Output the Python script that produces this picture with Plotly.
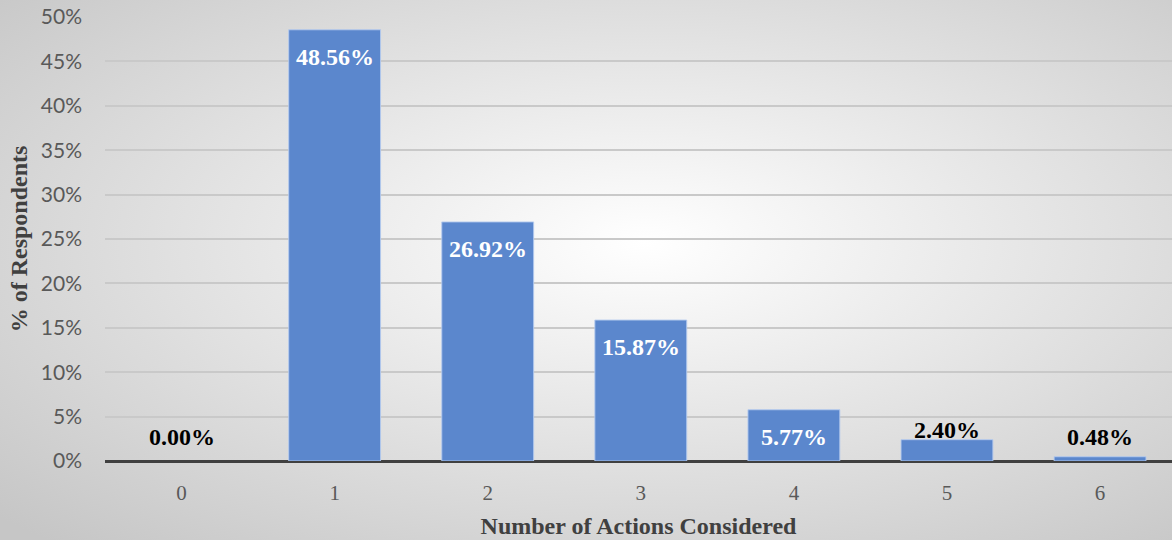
import base64
import plotly.graph_objects as go

# Share of respondents by number of actions considered
actions = ["0", "1", "2", "3", "4", "5", "6"]
share = [0.00, 48.56, 26.92, 15.87, 5.77, 2.40, 0.48]
# Labels that sit inside the bar (white) vs above it (black)
inside = [False, True, True, True, True, False, False]
label_shift = [24, -27, -27, -27, -27, 10, 20]
y_ticks = [0, 5, 10, 15, 20, 25, 30, 35, 40, 45, 50]

W, H = 1172, 540
L, R, T, B = 105, 0, 17, 79
pw, ph = W - L - R, H - T - B

# Soft radial backdrop
svg = (
    f'<svg xmlns="http://www.w3.org/2000/svg" width="{W}" height="{H}" preserveAspectRatio="none">'
    '<defs><radialGradient id="g" cx="0.55" cy="0.45" r="0.75">'
    '<stop offset="0" stop-color="#ffffff"/>'
    '<stop offset="1" stop-color="#c6c6c6"/>'
    '</radialGradient></defs>'
    f'<rect width="{W}" height="{H}" fill="url(#g)"/></svg>'
)
bg_uri = "data:image/svg+xml;base64," + base64.b64encode(svg.encode()).decode()

serif = "Liberation Serif, Times New Roman, serif"

fig = go.Figure(
    go.Bar(
        x=actions,
        y=share,
        marker=dict(
            color="#5B87CD",
            line=dict(color="rgba(180,202,238,0.9)", width=[1 if v > 0 else 0 for v in share]),
        ),
        width=0.6,
        hoverinfo="skip",
    )
)

for a, v, ins, dy in zip(actions, share, inside, label_shift):
    fig.add_annotation(
        x=a, y=v, xref="x", yref="y",
        text=f"<b>{v:.2f}%</b>",
        showarrow=False,
        yshift=dy,
        font=dict(family=serif, size=24, color="white" if ins else "black"),
    )

fig.add_layout_image(
    source=bg_uri, xref="paper", yref="paper",
    x=-L / pw, y=1 + T / ph, sizex=W / pw, sizey=H / ph,
    xanchor="left", yanchor="top", sizing="stretch", layer="below",
)

fig.update_layout(
    width=W, height=H,
    margin=dict(l=L, r=R, t=T, b=B),
    paper_bgcolor="rgba(0,0,0,0)",
    plot_bgcolor="rgba(0,0,0,0)",
    showlegend=False,
    xaxis=dict(
        type="category",
        range=[-0.5, 6.47],
        showgrid=False,
        showline=False,
        ticks="",
        ticklabelstandoff=17,
        tickfont=dict(family=serif, size=21, color="#595959"),
        title=dict(
            text="<b>Number of Actions Considered</b>",
            font=dict(family=serif, size=24, color="#404040"),
            standoff=13,
        ),
    ),
    yaxis=dict(
        range=[0, 50],
        tickvals=y_ticks,
        ticktext=[f"{t}%" for t in y_ticks],
        showgrid=True,
        gridcolor="#c9c9c9",
        gridwidth=1.5,
        zeroline=True,
        zerolinecolor="#404040",
        zerolinewidth=3,
        showline=False,
        ticks="",
        ticklabelstandoff=22,
        tickfont=dict(family="Lato, Open Sans, sans-serif", size=21, color="#595959"),
        title=dict(
            text="<b>% of Respondents</b>",
            font=dict(family=serif, size=24, color="#404040"),
            standoff=6,
        ),
    ),
)

fig.write_html("out.html")
